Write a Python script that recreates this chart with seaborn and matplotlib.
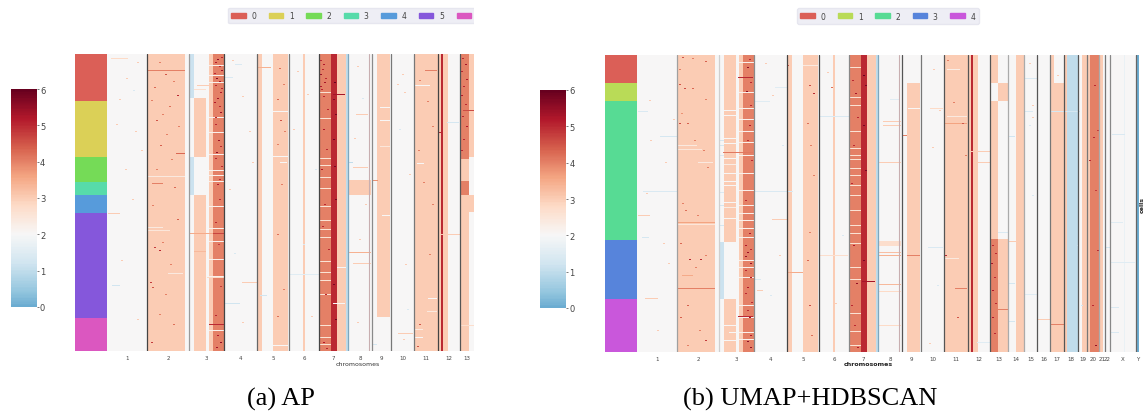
import numpy as np
import matplotlib
matplotlib.use("Agg")
import matplotlib.pyplot as plt
from matplotlib.patches import Patch, Rectangle
import seaborn as sns

W, H = 1147, 414
N_ROWS = 297

CHROM_NAMES = [str(i) for i in range(1, 23)] + ["X", "Y"]
CHROM_STARTS = [0, 40, 82, 117, 150, 182, 212, 241, 265, 284, 307, 331, 353, 371,
                387, 400, 413, 427, 441, 450, 462, 468, 473, 499, 502]

# copy-number blocks shared by both panels: (first bin, last bin, copy number)
BASE_BLOCKS = [(40, 78, 3), (102, 106, 3), (106, 117, 4), (150, 155, 3), (166, 181, 3),
               (196, 198, 3), (212, 224, 4), (224, 230, 5), (230, 239, 3), (239, 241, 1),
               (270, 283, 3), (307, 331, 3), (331, 334, 3), (334, 336, 5), (336, 341, 3),
               (379, 387, 3), (427, 430, 3), (430, 441, 1), (445, 450, 3), (450, 453, 3),
               (453, 462, 4), (462, 466, 3), (487, 488, 1.75), (499, 502, 0)]

# (first bin, last bin, first row, last row, copy number)
LEFT_REGIONS = [(82, 87, 0, 44, 1.15), (82, 87, 103, 141, 1.15), (87, 99, 44, 103, 3),
                (87, 99, 141, 297, 3), (241, 264, 126, 141, 3), (270, 283, 263, 297, 2),
                (353, 362, 0, 105, 4), (353, 362, 105, 127, 3), (353, 362, 127, 141, 4),
                (353, 362, 141, 297, 3), (362, 367, 0, 103, 3), (362, 367, 141, 158, 3)]
RIGHT_REGIONS = [(82, 87, 187, 244, 1.15), (87, 99, 0, 187, 3), (87, 99, 244, 297, 3),
                 (270, 283, 0, 28, 2), (353, 361, 0, 28, 3), (353, 361, 46, 184, 3),
                 (353, 361, 184, 297, 4), (361, 371, 28, 46, 3), (361, 371, 184, 297, 3),
                 (413, 417, 0, 28, 3), (413, 427, 28, 297, 3), (241, 264, 186, 191, 2.7)]

# horizontal events: (row, first bin, last bin, copy number)
LEFT_STREAKS = [(16, 40, 78, 4), (99, 69, 78, 4.3), (122, 40, 78, 2.4), (129, 45, 56, 4),
                (13, 150, 164, 3.4), (57, 166, 181, 2), (102, 166, 181, 2), (108, 173, 180, 2),
                (31, 90, 106, 3), (23, 118, 126, 1.4), (10, 128, 135, 1.4), (4, 4, 21, 2.8),
                (113, 246, 261, 3), (60, 249, 261, 3), (40, 226, 238, 5.3), (68, 340, 352, 1.3),
                (78, 331, 336, 5), (56, 356, 367, 4.6), (108, 240, 246, 1), (126, 265, 271, 3.8),
                (16, 318, 330, 4), (31, 307, 323, 2), (109, 310, 317, 2), (53, 273, 283, 2),
                (66, 273, 283, 2), (92, 273, 283, 2.5), (173, 40, 56, 2.4), (176, 40, 63, 2.5),
                (179, 82, 106, 3.5), (179, 106, 117, 4.7), (180, 308, 353, 3), (198, 241, 264, 3.4),
                (209, 246, 264, 3), (219, 61, 76, 2.4), (220, 183, 212, 1.5), (223, 100, 117, 2.8),
                (228, 135, 150, 3), (231, 5, 13, 1.2), (249, 118, 133, 1.2), (241, 153, 160, 1.2),
                (270, 102, 117, 5), (159, 1, 13, 3), (244, 321, 330, 2), (257, 320, 330, 2.4),
                (275, 308, 316, 2.4), (283, 308, 316, 2), (279, 291, 306, 3), (291, 166, 181, 2),
                (290, 265, 270, 1.3), (161, 275, 284, 2), (249, 226, 238, 2), (213, 230, 239, 2),
                (271, 353, 367, 2.7), (197, 87, 99, 3.3), (35, 87, 99, 2.7), (225, 230, 238, 3)]
RIGHT_STREAKS = [(22, 101, 116, 5), (10, 166, 181, 2.4), (32, 138, 150, 1.5), (46, 118, 133, 1.5),
                 (61, 183, 211, 1.4), (56, 1, 11, 1.4), (81, 23, 40, 1.3), (90, 41, 60, 2.4),
                 (94, 41, 65, 2.5), (107, 61, 76, 2.4), (97, 86, 116, 4.1), (136, 6, 40, 1.4),
                 (136, 118, 156, 1.4), (160, 1, 13, 3), (164, 135, 150, 3), (182, 5, 12, 1.3),
                 (167, 41, 78, 3.6), (169, 41, 78, 2.5), (233, 41, 78, 4), (220, 45, 56, 3.5),
                 (243, 8, 21, 3), (224, 118, 124, 1.4), (217, 150, 166, 3.5), (200, 183, 211, 2.7),
                 (261, 101, 116, 5), (235, 120, 126, 3), (53, 293, 306, 2.8), (61, 207, 212, 1.4),
                 (56, 388, 396, 1.4), (56, 413, 443, 1.3), (79, 475, 488, 1.4), (81, 371, 378, 1.2),
                 (23, 388, 400, 1.4), (61, 310, 330, 2.4), (68, 307, 330, 3.6), (66, 246, 264, 3),
                 (70, 246, 264, 3), (107, 241, 264, 3), (44, 253, 262, 1.5), (80, 265, 270, 4),
                 (96, 331, 353, 3), (107, 340, 353, 3), (14, 310, 323, 2.3), (53, 271, 283, 2),
                 (192, 291, 306, 1.4), (233, 318, 330, 4), (203, 307, 322, 2.4), (287, 340, 353, 1.5),
                 (197, 241, 264, 3.2), (200, 241, 264, 3.4), (229, 241, 264, 3.3), (236, 241, 264, 2.8),
                 (270, 241, 264, 2.8), (226, 225, 238, 5.3), (200, 270, 283, 4), (254, 361, 371, 4),
                 (186, 371, 387, 3), (177, 361, 371, 1.4), (228, 371, 378, 1.3), (266, 371, 378, 1.3),
                 (239, 387, 400, 1.5), (264, 400, 413, 3), (269, 414, 427, 4), (167, 474, 486, 1.5),
                 (207, 474, 498, 1.5), (252, 474, 482, 1.4), (277, 474, 482, 1.4), (192, 468, 473, 1.3),
                 (130, 87, 99, 2), (60, 87, 99, 2), (55, 87, 99, 2), (83, 87, 99, 2), (88, 87, 99, 2),
                 (103, 87, 99, 2), (109, 87, 99, 2.3), (118, 87, 99, 2), (126, 87, 99, 2), (147, 87, 99, 2),
                 (152, 87, 99, 2.3), (163, 87, 99, 2), (85, 82, 87, 1.3), (90, 82, 87, 1.3),
                 (100, 82, 87, 1.4), (137, 82, 87, 1.4), (150, 82, 87, 1.3), (170, 82, 87, 1.3),
                 (270, 87, 99, 2), (277, 92, 99, 2), (285, 87, 99, 2)]

# white gaps in the amplified columns: rows where the band drops out
LEFT_GAP_ROWS_CHR3 = [11, 21, 28, 63, 78, 100, 116, 121, 127, 152, 174, 187, 205, 222, 276]
LEFT_GAP_ROWS_CHR7 = [38, 64, 104, 111, 123, 134, 152, 166, 175, 183, 207, 218, 226, 240, 271, 283, 290]
RIGHT_GAP_ROWS_CHR3 = [7, 37, 53, 64, 76, 87, 100, 118, 135, 150, 158, 165, 173, 182, 205, 212, 222, 250, 262, 277, 284]
RIGHT_GAP_ROWS_CHR7 = [12, 42, 50, 76, 93, 100, 104, 113, 120, 130, 140, 155, 170, 178, 188, 212, 224, 258, 276, 290]

# short focal events: (row, bin, copy number)
LEFT_SPECKS = [(8, 52, 4), (20, 58, 4.5), (27, 66, 4), (33, 47, 4.3), (41, 70, 5), (46, 44, 4), (52, 62, 4.2),
               (60, 55, 4), (66, 49, 4.5), (72, 71, 4), (80, 59, 4), (91, 53, 4.4), (105, 64, 4), (115, 49, 4),
               (133, 67, 4.3), (151, 45, 4), (165, 70, 4.4), (188, 55, 4), (193, 47, 4.8), (196, 52, 5),
               (210, 63, 4), (228, 43, 4.8), (233, 45, 4.5), (240, 58, 4), (260, 52, 4), (270, 66, 4.2), (288, 44, 4.8),
               (5, 110, 5.5), (12, 112, 5), (24, 109, 5.6), (34, 114, 5), (44, 110, 5.3), (58, 113, 5.4), (70, 108, 5),
               (86, 111, 5.4), (98, 109, 5.6), (112, 114, 5), (130, 110, 5.2), (145, 112, 5), (168, 108, 5), (190, 111, 4.8),
               (232, 113, 4.8), (261, 108, 5), (281, 110, 5.2), (288, 113, 5.5), (293, 109, 5.3),
               (3, 114, 5), (8, 108, 5.2), (16, 114, 5.4), (19, 107, 5), (27, 112, 5.3), (31, 108, 5), (38, 113, 5.2),
               (48, 107, 5.2), (52, 112, 5), (63, 108, 5), (92, 113, 5), (104, 108, 5), (125, 112, 5),
               (15, 215, 5), (28, 217, 5.3), (35, 214, 5), (55, 220, 5), (75, 216, 5.2), (95, 219, 5), (115, 214, 5.2),
               (150, 217, 5), (172, 215, 5), (195, 221, 5), (240, 218, 5), (288, 216, 5.2), (294, 219, 5),
               (6, 213, 5), (10, 216, 5.2), (20, 213, 5.4), (24, 218, 5), (32, 213, 5.2), (42, 216, 5),
               (28, 227, 6), (45, 226, 5.7), (60, 228, 5.8), (85, 226, 5.9), (112, 227, 5.8), (145, 228, 5.8), (230, 226, 5.8), (265, 228, 5.9),
               (14, 172, 4.2), (30, 176, 4), (45, 170, 4.3), (66, 173, 4.5), (77, 177, 4), (90, 170, 4), (130, 174, 4), (180, 170, 4.2), (235, 176, 4), (262, 170, 4.2),
               (26, 312, 4), (47, 320, 4), (72, 325, 4), (96, 311, 4), (128, 316, 4), (150, 325, 4), (200, 322, 4), (270, 312, 4.5), (292, 310, 4.5),
               (4, 355, 5), (10, 358, 5.3), (17, 354, 5), (25, 359, 5.2), (32, 356, 5), (41, 354, 5.2), (50, 358, 5), (62, 355, 5), (72, 359, 5.2), (85, 356, 5), (96, 354, 5),
               (8, 30, 3), (24, 19, 3), (36, 26, 1.4), (45, 12, 3), (70, 9, 3), (77, 28, 3), (96, 34, 3), (115, 18, 3), (145, 25, 3), (206, 14, 3),
               (265, 30, 3), (6, 125, 3), (42, 135, 3), (77, 142, 3), (108, 145, 3), (135, 122, 3), (199, 127, 1.4), (268, 135, 3),
               (17, 190, 3), (40, 200, 3), (75, 186, 3), (115, 208, 1.4), (190, 196, 1.4), (262, 204, 3),
               (20, 295, 3), (30, 290, 3), (38, 297, 3), (75, 292, 1.4), (120, 302, 3), (210, 298, 3), (255, 300, 1.4), (285, 296, 3),
               (12, 250, 3), (44, 255, 1.4), (84, 247, 3), (150, 258, 3), (185, 252, 3), (268, 250, 3)]
RIGHT_SPECKS = [(2, 45, 4.5), (3, 55, 4), (6, 68, 4.4), (14, 42, 4), (29, 42, 4.5), (33, 47, 4.6), (33, 55, 4.3),
                (44, 68, 4), (58, 44, 3.8), (68, 50, 4.4), (68, 42, 4.6), (85, 57, 4), (95, 66, 4), (112, 70, 4),
                (148, 45, 4), (155, 48, 4.2), (160, 60, 4), (188, 43, 4.3), (200, 68, 4), (204, 52, 5), (204, 63, 5),
                (212, 58, 4), (250, 50, 4.4), (262, 43, 4.4), (275, 62, 4), (285, 68, 4.8), (290, 50, 4),
                (4, 112, 5), (12, 110, 5.5), (27, 113, 5), (36, 109, 5.6), (50, 113, 5), (70, 112, 5.2), (85, 110, 5),
                (105, 114, 5), (145, 108, 5), (178, 112, 5.3), (197, 110, 5.4), (208, 113, 5.5), (215, 108, 5), (232, 110, 5.2),
                (247, 114, 5), (262, 112, 5.4), (286, 110, 5.6), (292, 113, 5.5),
                (190, 108, 5.2), (194, 113, 5), (201, 108, 5.4), (222, 113, 5.2), (238, 108, 5), (255, 110, 5), (280, 113, 5.2),
                (25, 215, 5), (38, 218, 5.3), (62, 220, 5), (90, 216, 5), (128, 214, 5), (190, 216, 5.2), (228, 219, 5.5),
                (250, 214, 5), (270, 217, 5), (292, 220, 5.2), (20, 226, 6), (30, 228, 5.8), (70, 226, 5.8), (115, 228, 5.8), (205, 226, 5.8),
                (30, 172, 4.6), (38, 176, 5), (68, 170, 4.2), (90, 173, 4), (120, 176, 4), (177, 172, 4), (205, 170, 4.3),
                (250, 172, 4.6), (280, 174, 4.2), (10, 150, 4.5), (5, 310, 4), (47, 316, 4), (68, 325, 4.5), (100, 328, 4), (200, 308, 5), (262, 320, 4.5),
                (190, 355, 5), (198, 358, 5), (208, 354, 5.3), (222, 357, 5), (235, 355, 5.2), (248, 358, 5), (262, 355, 5.2), (278, 357, 5),
                (8, 392, 3), (20, 420, 3), (50, 395, 3), (45, 12, 3), (64, 36, 3), (85, 13, 3), (107, 28, 3), (138, 9, 3), (188, 26, 3),
                (208, 31, 3), (275, 20, 3), (8, 128, 3), (40, 135, 3), (90, 145, 1.4), (200, 142, 3), (240, 133, 1.4),
                (17, 190, 3), (32, 194, 4.2), (180, 205, 1.4), (248, 198, 3), (14, 296, 3), (55, 302, 3), (92, 295, 3), (230, 300, 1.4), (288, 292, 3),
                (75, 460, 4.8), (82, 456, 5), (30, 457, 5), (105, 452, 5), (135, 458, 4.8), (195, 460, 5), (250, 455, 5), (290, 458, 5.5),
                (62, 395, 3), (70, 392, 1.4), (140, 395, 1.4), (190, 440, 1.3), (250, 444, 1.3)]

LEFT_CLUSTERS = [47, 56, 25, 13, 18, 105, 33]
RIGHT_CLUSTERS = [28, 18, 139, 59, 53]

# grey shade of the separators between chromosomes (one per boundary)
LEFT_RULES = ["#444444", "#9a9a9a", "#444444", "#666666", "#777777", "#444444", "#7fa6bd",
              "#8a8a8a", "#777777", "#777777", "#444444", "#555555"]
RIGHT_RULES = ["#a0a0a0", "#cfcfcf", "#8a8a8a", "#444444", "#444444", "#888888", "#7fa6bd", "#555555",
               "#777777", "#555555", "#555555", "#555555", "#aaaaaa", "#aaaaaa", "#555555", "#777777",
               "#555555", "#555555", "#777777", "#aaaaaa", "#777777", "#888888", "#666666"]


def px_axes(fig, x0, y0, x1, y1):
    return fig.add_axes([x0 / W, 1 - y1 / H, (x1 - x0) / W, (y1 - y0) / H])


def build(n_cols, regions, streaks, specks, gaps3, gaps7):
    m = np.full((N_ROWS, 502), 2.0)
    for a, b, v in BASE_BLOCKS:
        m[:, a:b] = v
    for a, b, r0, r1, v in regions:
        m[r0:r1, a:b] = v
    for r in gaps3:
        m[r, 102:117] = 2.2
    for r in gaps7:
        m[r, 212:224] = 2.6
    for r, a, b, v in streaks:
        m[r, a:b] = v
    for r, c, v in specks:
        m[r, c:c + 2] = v
    return m[:, :n_cols]


def panel(fig, box, cbar_box, n_cols, matrix, clusters, rules, tick_fs, xlabel_x, bold):
    bx0, y0, bx1, hx1, y1 = box
    labels = np.repeat(np.arange(len(clusters)), clusters)[:, None]
    colours = sns.hls_palette(len(clusters), h=.01, l=.6, s=.65)
    ax_c = px_axes(fig, bx0, y0, bx1, y1)
    sns.heatmap(labels, ax=ax_c, cmap=matplotlib.colors.ListedColormap(colours), cbar=False,
                xticklabels=False, yticklabels=False)
    ax = px_axes(fig, bx1, y0, hx1, y1)
    cax = px_axes(fig, *cbar_box)
    sns.heatmap(matrix, ax=ax, cmap="RdBu_r", center=2, vmin=0, vmax=6, cbar_ax=cax,
                xticklabels=False, yticklabels=False, rasterized=True)
    cax.tick_params(labelsize=6, length=1.5, width=.5, pad=1, colors="#444444")
    cax.set_yticks(range(7))
    starts = [s for s in CHROM_STARTS if s < n_cols]
    ends = starts[1:] + [n_cols]
    ax.set_xticks([(a + b) / 2 for a, b in zip(starts, ends)])
    ax.set_xticklabels(CHROM_NAMES[:len(starts)], rotation=0, fontsize=tick_fs, color="#444444")
    ax.tick_params(axis="x", length=0, pad=3)
    for s, c in zip(starts[1:], rules):
        ax.axvline(s, color=c, lw=.9)
    ax.axvline(262, color="#c8aeb0", lw=.8)
    fig.text(xlabel_x / W, 1 - 364.5 / H, "chromosomes", ha="center", va="center", fontsize=4.5,
             color="#333333" if not bold else "#222222", fontweight="bold" if bold else "normal")
    return colours


def add_legend(fig, colours, labels, x, y):
    handles = [Patch(facecolor=c, edgecolor=c, label=l) for c, l in zip(colours, labels)]
    leg = fig.legend(handles=handles, loc="center left", bbox_to_anchor=(x / W, 1 - y / H),
                     ncol=len(handles), fontsize=5.5, frameon=True, borderaxespad=0,
                     handlelength=1.85, handleheight=.55, handletextpad=.75, columnspacing=1.68,
                     borderpad=.45, fancybox=True, facecolor="#eeeef5", edgecolor="#e6e6ef",
                     labelcolor="#444444", framealpha=1)
    return leg


sns.set_theme(style="white")
plt.rcParams["font.family"] = ["DejaVu Sans"]
fig = plt.figure(figsize=(W / 100, H / 100), dpi=100, facecolor="white")

left = build(367, LEFT_REGIONS, LEFT_STREAKS, LEFT_SPECKS, LEFT_GAP_ROWS_CHR3, LEFT_GAP_ROWS_CHR7)
right = build(502, RIGHT_REGIONS, RIGHT_STREAKS, RIGHT_SPECKS, RIGHT_GAP_ROWS_CHR3, RIGHT_GAP_ROWS_CHR7)

cols_l = panel(fig, (75, 55, 107, 474, 352), (11, 90, 36.5, 308), 367, left, LEFT_CLUSTERS,
               LEFT_RULES, 4, 358, False)
cols_r = panel(fig, (605, 56, 637, 1139, 353), (540, 91, 566, 309), 502, right, RIGHT_CLUSTERS,
               RIGHT_RULES, 4, 868, True)

add_legend(fig, cols_l, ["0", "1", "2", "3", "4", "5", ""], 228, 16.5)
fig.add_artist(Rectangle((474 / W, 1 - 30 / H), 12 / W, 25 / H, transform=fig.transFigure,
                         facecolor="white", edgecolor="none", zorder=10))
add_legend(fig, cols_r, ["0", "1", "2", "3", "4"], 797, 17)

fig.text(1142 / W, 1 - 205 / H, "cells", rotation=90, ha="center", va="center", fontsize=4.5,
         fontweight="bold", color="#222222")
fig.text(280.5 / W, 1 - 399 / H, "(a) AP", ha="center", va="center", fontsize=19,
         family="Liberation Serif", color="black")
fig.text(810.5 / W, 1 - 399 / H, "(b) UMAP+HDBSCAN", ha="center", va="center", fontsize=19,
         family="Liberation Serif", color="black")

fig.savefig("out.png", dpi=100)
